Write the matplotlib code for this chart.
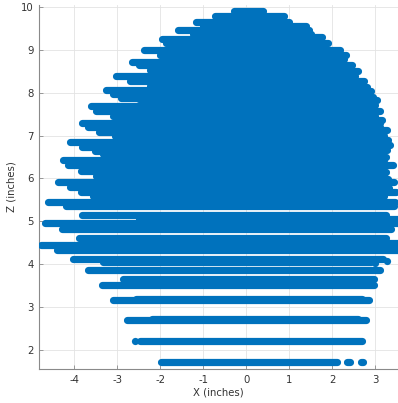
import matplotlib
matplotlib.use("Agg")
import matplotlib.pyplot as plt

# Horizontal bands of scanned points: (Z level, leftmost X, rightmost X)
band_z = [
    9.90, 9.80, 9.66, 9.56, 9.47, 9.37, 9.30, 9.26, 9.17, 9.08,
    9.00, 8.89, 8.79, 8.72, 8.64, 8.54, 8.50, 8.40, 8.28, 8.16,
    8.13, 8.07, 8.03, 7.96, 7.91, 7.87, 7.83, 7.72, 7.68, 7.58,
    7.46, 7.37, 7.29, 7.20, 7.13, 7.09, 7.00, 6.90, 6.86, 6.78,
    6.74, 6.67, 6.63, 6.57, 6.51, 6.42, 6.31, 6.18, 6.14, 6.06,
    5.98, 5.91, 5.81, 5.77, 5.69, 5.59, 5.57,
    5.45, 5.36, 5.15, 5.05, 4.97, 4.83, 4.62, 4.50, 4.45, 4.33,
    4.12, 4.05, 3.85, 3.65, 3.52, 3.19, 3.15, 2.71, 2.69, 2.21,
    1.72, 1.72, 1.72,
]
band_xmin = [
    -0.29, -0.73, -1.16, -1.00, -1.58, -1.23, -1.00, -1.95, -1.86, -1.42,
    -2.37, -2.00, -1.80, -2.65, -2.49, -2.23, -1.50, -3.03, -2.70, -2.23,
    -1.50, -3.26, -2.00, -3.09, -2.00, -2.91, -1.50, -2.50, -3.60, -3.48,
    -3.09, -2.00, -3.81, -3.67, -2.00, -3.42, -3.05, -2.50, -4.09, -2.00,
    -3.81, -2.00, -3.52, -3.33, -2.00, -4.26, -4.14, -3.83, -2.00, -3.48,
    -2.00, -4.37, -4.10, -2.00, -3.83, -3.57, -2.00,
    -4.60, -4.18, -3.81, -2.50, -4.68, -4.28, -3.88, -1.00, -4.78, -4.40,
    -4.02, -3.33, -3.67, -2.86, -3.35, -2.55, -3.09, -2.20, -2.77, -2.46,
    -1.97, 2.34, 2.66,
]
band_xmax = [
    0.40, 0.89, 0.99, 1.40, 1.46, 1.50, 1.77, 1.60, 1.91, 1.77,
    2.19, 2.31, 2.27, 2.20, 2.46, 2.40, 2.60, 2.52, 2.74, 2.60,
    2.80, 2.70, 2.91, 2.80, 2.95, 2.90, 3.05, 3.00, 2.90, 3.11,
    3.00, 3.16, 3.10, 3.10, 3.28, 3.20, 3.20, 3.30, 3.20, 3.34,
    3.20, 3.28, 3.20, 3.10, 3.24, 3.20, 3.42, 3.20, 3.26, 3.20,
    3.30, 3.44, 3.30, 3.32, 3.48, 3.20, 3.16,
    3.45, 3.43, 3.24, 3.60, 3.60, 3.36, 3.24, 3.60, 3.60, 3.60,
    3.18, 2.90, 3.12, 2.97, 2.97, 2.70, 2.86, 2.60, 2.78, 2.69,
    2.12, 2.42, 2.72,
]

# Isolated points
dot_x = [-2.59, 3.00, 3.28]
dot_z = [2.21, 4.03, 4.07]

x_ticks = [-4, -3, -2, -1, 0, 1, 2, 3]
z_ticks = [2, 3, 4, 5, 6, 7, 8, 9, 10]

blue = "#0072BD"
lw_pt = 5.2

fig = plt.figure(figsize=(3.98, 4.03), dpi=100)
ax = fig.add_axes([0.0987, 0.0844, 0.9013, 0.9032])

ax.hlines(band_z, band_xmin, band_xmax, colors=blue, linewidth=lw_pt,
          capstyle="round", zorder=3)
ax.scatter(dot_x, dot_z, s=lw_pt ** 2, color=blue, linewidths=0, zorder=3)

ax.set_xlim(-4.81, 3.53)
ax.set_ylim(1.55, 10.05)
ax.set_xticks(x_ticks)
ax.set_yticks(z_ticks)
ax.set_xticklabels([str(v) for v in x_ticks])
ax.set_yticklabels([str(v) for v in z_ticks])

ax.grid(True, color="#e3e3e3", linewidth=0.6)
ax.set_axisbelow(True)
for s in ["top", "right"]:
    ax.spines[s].set_visible(False)
for s in ["left", "bottom"]:
    ax.spines[s].set_color("#8a8a8a")
    ax.spines[s].set_linewidth(0.8)
ax.tick_params(direction="in", length=3, width=0.6, color="#8a8a8a",
               labelsize=7.3, labelcolor="#333333", pad=4)

ax.set_xlabel("X (inches)", fontsize=7.3, color="#333333", labelpad=2)
ax.set_ylabel("Z (inches)", fontsize=7.3, color="#333333", labelpad=3)

fig.savefig("out.png", dpi=100)
